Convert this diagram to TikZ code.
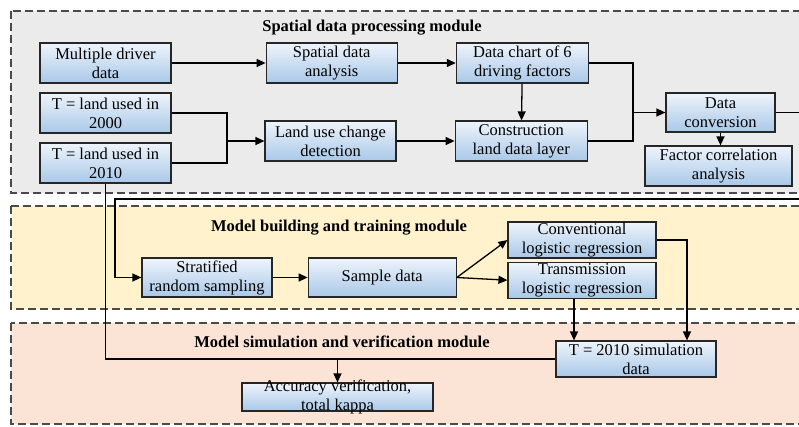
\documentclass[tikz,border=0pt]{standalone}
\usepackage{fontspec}
\setmainfont{Liberation Serif}
\usepackage{tikz}
\usetikzlibrary{positioning}
\usetikzlibrary{calc}
\usetikzlibrary{arrows.meta}
\definecolor{modgray}{HTML}{EBEBEB}
\definecolor{modyellow}{HTML}{FFF2CC}
\definecolor{modpeach}{HTML}{FBE4D5}
\definecolor{blktop}{HTML}{EEF4FB}
\definecolor{blkbot}{HTML}{A9C8E8}
\definecolor{dashgray}{HTML}{4A4A4A}
\newcommand{\diagfont}{\fontsize{16.5}{19}\selectfont}
\tikzstyle{blk} = [rectangle,draw=black!85,line width=1.2pt,top color=blktop,bottom color=blkbot,align=center,inner xsep=2pt,inner ysep=0pt,minimum height=40pt]
\tikzstyle{module} = [draw=dashgray,line width=1.2pt,dash pattern=on 8pt off 4pt]
\tikzstyle{mtitle} = [font=\diagfont\bfseries,inner sep=0pt]

\begin{document}
\begin{tikzpicture}[x=1pt,y=-1pt,font=\diagfont,>={Triangle[length=9pt,width=8pt]},line width=1.3pt]
	\useasboundingbox (0,0) rectangle (799,426);
	\clip (0,0) rectangle (799,426);
	\fill[white] (0,0) rectangle (799,426);
	% modules
	\draw[module,fill=modgray] (11,11) rectangle (830,193);
	\draw[module,fill=modyellow] (11,206) rectangle (830,309);
	\draw[module,fill=modpeach] (11,323) rectangle (830,424);
	\node[mtitle] (title1) at (372,28) {Spatial data processing module};
	\node[mtitle] (title2) at (339,228) {Model building and training module};
	\node[mtitle] (title3) at (342,342) {Model simulation and verification module};
	
	% spatial data processing
	\node[blk,minimum width=131pt] (driver) at (105.5,63) {Multiple driver\\data};
	\node[blk,minimum width=131pt] (land2000) at (105.5,113) {T = land used in\\2000};
	\node[blk,minimum width=131pt] (land2010) at (105.5,163) {T = land used in\\2010};
	\node[blk,minimum width=131pt,right=94pt of driver] (spatial) {Spatial data\\analysis};
	\node[blk,minimum width=132pt,right=58pt of spatial] (chart) {Data chart of 6\\driving factors};
	\node[blk,minimum width=131pt] (change) at (330.5,141) {Land use change\\detection};
	\node[blk,minimum width=132pt,right=58pt of change] (layer) {Construction\\land data layer};
	\node[blk,minimum width=109pt,minimum height=39pt] (convert) at (720.5,112.5) {Data\\conversion};
	\node[blk,minimum width=147pt] (factor) at (718.5,166) {Factor correlation\\analysis};
	
	% model building and training
	\node[blk,minimum width=130pt,minimum height=39pt] (strat) at (207,277.5) {Stratified\\random sampling};
	\node[blk,minimum width=148pt,minimum height=39pt,right=35pt of strat] (sample) {Sample data};
	\node[blk,minimum width=148pt,minimum height=36pt] (convlr) at (582,240) {Conventional\\logistic regression};
	\node[blk,minimum width=148pt,minimum height=36pt,below=3pt of convlr] (translr) {Transmission\\logistic regression};
	
	% simulation and verification
	\node[blk,minimum width=160pt,minimum height=36pt] (sim) at (636,359) {T = 2010 simulation\\data};
	\node[blk,minimum width=191pt,minimum height=28pt] (acc) at (337.5,397) {};
	\node[inner sep=0pt,align=center] (acctext) at (acc.center) {Accuracy verification,\\total kappa};
	
	\draw[->] (driver) -- (spatial);
	\draw[->] (spatial) -- (chart);
	\coordinate (join1) at (227,141);
	\draw (land2000.east) -| (join1);
	\draw (land2010.east) -| (join1);
	\draw[->] (join1) -- (change);
	\draw[->] (change) -- (layer);
	\draw[->] (chart) -- (layer);
	\coordinate (join2) at (633,112.5);
	\draw (chart.east) -| (join2);
	\draw (layer.east) -| (join2);
	\draw[->] (join2) -- (convert);
	\draw[->] (convert.south) -- (convert.south |- factor.north);
	
	% back to sampling
	\coordinate (loopr) at (815,199);
	\coordinate (loopl) at (115,199);
	\draw[->] (convert.east) -| (loopr) -- (loopl) |- (strat.west);
	\draw[->] (strat) -- (sample);
	\draw[->] (sample.east) -- (convlr.west);
	\draw[->] (sample.east) -- (translr.west);
	\draw[->] (convlr.east) -| ($(sim.north)+(51,0)$);
	\coordinate (tdrop) at ([xshift=-8pt]translr.south);
	\draw[->] (tdrop) -- (tdrop |- sim.north);
	
	\coordinate (split) at (acc.north |- sim.west);
	\draw (land2010.south) |- (sim.west);
	\draw[->] (split) -- (acc.north);
\end{tikzpicture}
\end{document}
